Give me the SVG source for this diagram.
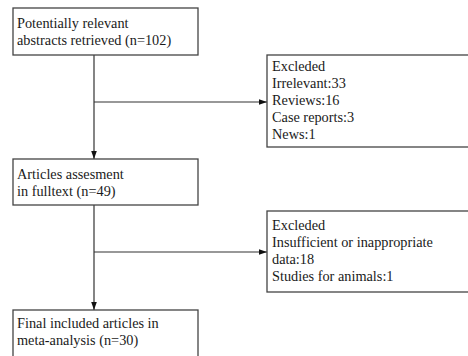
<svg xmlns="http://www.w3.org/2000/svg" width="468" height="356" viewBox="0 0 468 356">
<style>
.box{fill:#fff;stroke:#444;stroke-width:1.3}
.t{font-family:"Liberation Serif","Times New Roman",serif;font-size:14.3px;fill:#1a1a1a}
.c{fill:none;stroke:#333;stroke-width:1.2}
</style>
<defs>
<marker id="ah" viewBox="0 0 10 10" refX="10" refY="5" markerWidth="8" markerHeight="8" markerUnits="userSpaceOnUse" orient="auto">
<path d="M0,1.5 L10,5 L0,8.5 Z" fill="#111"/>
</marker>
</defs>
<rect width="468" height="356" fill="#fff"/>
<g id="connectors">
<path class="c" d="M94,55 V159" marker-end="url(#ah)"/>
<path class="c" d="M94,102 H267" marker-end="url(#ah)"/>
<path class="c" d="M94,205 V310" marker-end="url(#ah)"/>
<path class="c" d="M94,252 H267" marker-end="url(#ah)"/>
</g>
<g id="n1">
<rect class="box" x="13" y="8" width="185" height="47"/>
<text class="t" x="17" y="28">Potentially relevant</text>
<text class="t" x="17" y="45">abstracts retrieved (n=102)</text>
</g>
<g id="n2">
<rect class="box" x="267" y="55" width="210" height="92"/>
<text class="t" x="272" y="71">Excleded</text>
<text class="t" x="272" y="88">Irrelevant:33</text>
<text class="t" x="272" y="105">Reviews:16</text>
<text class="t" x="272" y="122">Case reports:3</text>
<text class="t" x="272" y="139">News:1</text>
</g>
<g id="n3">
<rect class="box" x="13" y="159" width="185" height="46"/>
<text class="t" x="17" y="179">Articles assesment</text>
<text class="t" x="17" y="196">in fulltext (n=49)</text>
</g>
<g id="n4">
<rect class="box" x="267" y="211" width="210" height="81"/>
<text class="t" x="272" y="230">Excleded</text>
<text class="t" x="272" y="247">Insufficient or inappropriate</text>
<text class="t" x="272" y="264">data:18</text>
<text class="t" x="272" y="281">Studies for animals:1</text>
</g>
<g id="n5">
<rect class="box" x="13" y="310" width="185" height="60"/>
<text class="t" x="17" y="328">Final included articles in</text>
<text class="t" x="17" y="345">meta-analysis (n=30)</text>
</g>
</svg>
